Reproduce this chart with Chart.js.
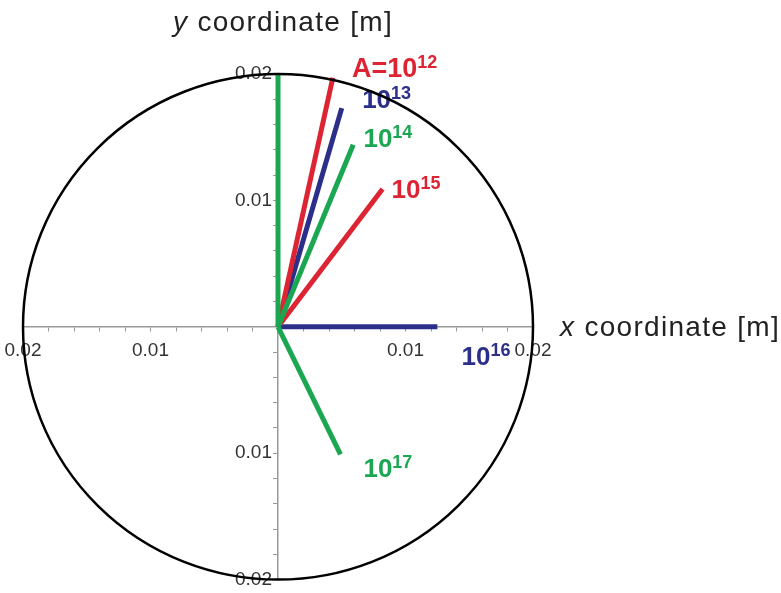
<!DOCTYPE html>
<html>
<head>
<meta charset="utf-8">
<script src="https://cdn.jsdelivr.net/npm/chart.js@4"></script>
<style>
  body { margin: 0; background: #fff; }
  #wrap { width: 781px; height: 593px; }
</style>
</head>
<body>
<div id="wrap"><canvas id="c" width="781" height="593"></canvas></div>
<script>
// values (metres)
const exponents = [12, 13, 14, 15, 16, 17];
const endX = [0.0043, 0.0050, 0.0059, 0.0082, 0.0125, 0.0049];
const endY = [0.0197, 0.0173, 0.0144, 0.0109, 0, -0.0101];
const startLine = [0, 0.02];          // green vertical line, no label
const circleRadius = 0.02;
const axisRange = [-0.02, 0.02];
const tickStep = 0.002;
const majorTicks = [0.01, 0.02];

// label anchors in data units (left edge, baseline)
const labelX = [0.0058, 0.0066, 0.0067, 0.0089, 0.0144, 0.0067];
const labelY = [0.0198, 0.0173, 0.0142, 0.0102, -0.0030, -0.0119];

const RED = '#dc2433', BLUE = '#2b2f8a', GREEN = '#1ba752';
const colors = [RED, BLUE, GREEN, RED, BLUE, GREEN];

// green lines first so they sit on top at the origin
const datasets = [];
[5, 2].forEach(i => datasets.push(lineSet(i)));
datasets.push({
  data: [{ x: 0, y: 0 }, { x: startLine[0], y: startLine[1] }],
  borderColor: GREEN, borderWidth: 5, showLine: true, pointRadius: 0, borderCapStyle: 'butt'
});
[0, 1, 3, 4].forEach(i => datasets.push(lineSet(i)));

function lineSet(i) {
  return {
    data: [{ x: 0, y: 0 }, { x: endX[i], y: endY[i] }],
    borderColor: colors[i], borderWidth: 5, showLine: true, pointRadius: 0, borderCapStyle: 'butt'
  };
}

function tickLabel(value) {
  const v = Math.abs(value);
  return majorTicks.some(m => Math.abs(m - v) < 1e-9) ? v.toFixed(2) : '';
}

const tickFont = { family: '"Liberation Sans", Arial, sans-serif', size: 19 };

const overlay = {
  id: 'overlay',
  afterDraw(chart) {
    const ctx = chart.ctx;
    const xs = chart.scales.x, ys = chart.scales.y;
    ctx.save();
    ctx.textBaseline = 'alphabetic';
    ctx.textAlign = 'left';

    // powers of ten
    exponents.forEach((e, i) => {
      const px = xs.getPixelForValue(labelX[i]);
      const py = ys.getPixelForValue(labelY[i]);
      const prefix = i === 0 ? 'A=10' : '10';
      const size = i === 0 ? 27 : 26;
      ctx.fillStyle = colors[i];
      ctx.font = 'bold ' + size + 'px "Liberation Sans", Arial, sans-serif';
      ctx.fillText(prefix, px, py);
      const w = ctx.measureText(prefix).width;
      ctx.font = 'bold 18px "Liberation Sans", Arial, sans-serif';
      ctx.fillText(String(e), px + w, py - 9);
    });

    // axis titles
    const ox = xs.getPixelForValue(0), oy = ys.getPixelForValue(0);
    ctx.fillStyle = '#222';
    ctx.letterSpacing = '1.3px';
    drawTitle(ctx, 'y', ' coordinate [m]', ox - 105, ys.top - 43);
    drawTitle(ctx, 'x', ' coordinate [m]', xs.right + 27, oy + 9);
    ctx.letterSpacing = '0px';

    // circle
    ctx.beginPath();
    ctx.ellipse(ox, oy,
      xs.getPixelForValue(circleRadius) - ox,
      oy - ys.getPixelForValue(circleRadius), 0, 0, Math.PI * 2);
    ctx.lineWidth = 2.5;
    ctx.strokeStyle = '#000';
    ctx.stroke();
    ctx.restore();
  }
};

function drawTitle(ctx, v, rest, x, y) {
  ctx.font = 'italic 28px "Liberation Sans", Arial, sans-serif';
  ctx.fillText(v, x, y);
  const w = ctx.measureText(v).width;
  ctx.font = '28px "Liberation Sans", Arial, sans-serif';
  ctx.fillText(rest, x + w, y);
}

new Chart(document.getElementById('c'), {
  type: 'scatter',
  data: { datasets },
  options: {
    responsive: false,
    animation: false,
    layout: { padding: { left: 23, right: 248, top: 74, bottom: 13 } },
    plugins: { legend: { display: false }, tooltip: { enabled: false } },
    scales: {
      x: {
        type: 'linear', min: axisRange[0], max: axisRange[1],
        position: { y: 0 },
        afterFit: s => { s.height = 0; },
        ticks: { stepSize: tickStep, autoSkip: false, maxRotation: 0, maxTicksLimit: 50,
                 callback: tickLabel, font: tickFont, color: '#333', padding: 3 },
        // long tick slot pushes labels down, dash keeps the visible mark short
        grid: { drawOnChartArea: false, tickLength: 10, tickBorderDash: [4, 20], tickColor: '#999' },
        border: { color: '#999', width: 1.5 }
      },
      y: {
        type: 'linear', min: axisRange[0], max: axisRange[1],
        position: 'center',
        afterFit: s => { s.width = 0; },
        ticks: { stepSize: tickStep, autoSkip: false, maxTicksLimit: 50,
                 callback: tickLabel, font: tickFont, color: '#333', padding: 2 },
        grid: { drawOnChartArea: false, tickLength: 4, tickColor: '#999' },
        border: { color: '#999', width: 1.5 }
      }
    }
  },
  plugins: [overlay]
});
</script>
</body>
</html>
